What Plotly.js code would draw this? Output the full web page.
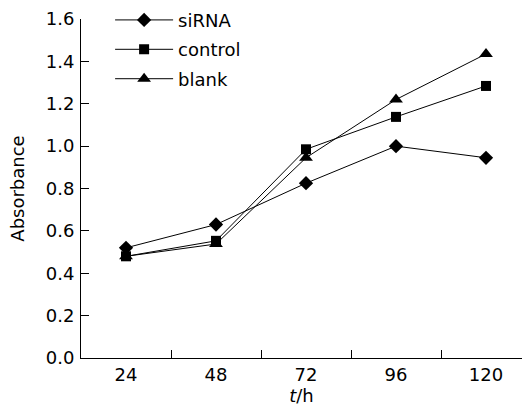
<!DOCTYPE html>
<html>
<head>
<meta charset="utf-8">
<script src="https://cdn.plot.ly/plotly-3.0.1.min.js"></script>
<style>html,body{margin:0;padding:0;background:#fff;}#chart{width:527px;height:410px;}</style>
</head>
<body>
<div id="chart"></div>
<script>
var hours = ['24', '48', '72', '96', '120'];
var siRNA = [0.52, 0.63, 0.825, 1.0, 0.945];
var control = [0.48, 0.553, 0.985, 1.138, 1.284];
var blank = [0.48, 0.538, 0.945, 1.22, 1.435];
var seriesNames = ['siRNA', 'control', 'blank'];
var symbols = ['diamond', 'square', 'triangle-up'];
var sizes = [11, 10, 12];

var values = [siRNA, control, blank];
var traces = values.map(function (v, i) {
  return {
    x: hours, y: v, name: seriesNames[i], type: 'scatter', mode: 'lines+markers',
    legendgroup: 'g' + i,
    line: {color: '#000', width: 1},
    marker: {symbol: symbols[i], size: sizes[i], color: '#000'}
  };
});

var font = {family: 'DejaVu Sans, Verdana, sans-serif', size: 18, color: '#000'};
var layout = {
  width: 527, height: 410,
  margin: {l: 81, r: 5, t: 19, b: 52, autoexpand: false},
  paper_bgcolor: '#fff', plot_bgcolor: '#fff',
  font: font,
  showlegend: true,
  legend: {x: 0.066, y: 1.051, xanchor: 'left', yanchor: 'top', bgcolor: 'rgba(0,0,0,0)',
           font: font, tracegroupgap: 3, itemwidth: 58},
  xaxis: {
    type: 'category', range: [-0.5, 4.4], tickson: 'boundaries',
    ticks: 'inside', ticklen: 8, tickcolor: '#000', showline: true, linecolor: '#000', linewidth: 1,
    showgrid: false, zeroline: false, tickfont: font, ticklabelstandoff: 0,
    title: {text: '<i>t</i>/h', font: font, standoff: 0}
  },
  yaxis: {
    range: [0, 1.6], dtick: 0.2, tickformat: '.1f',
    ticks: 'inside', ticklen: 8, tickcolor: '#000', showline: true, linecolor: '#000', linewidth: 1,
    showgrid: false, zeroline: false, tickfont: font, ticklabelstandoff: 2,
    title: {text: 'Absorbance', font: font, standoff: 16}
  }
};
Plotly.newPlot('chart', traces, layout, {displayModeBar: false, staticPlot: true});
</script>
</body>
</html>
